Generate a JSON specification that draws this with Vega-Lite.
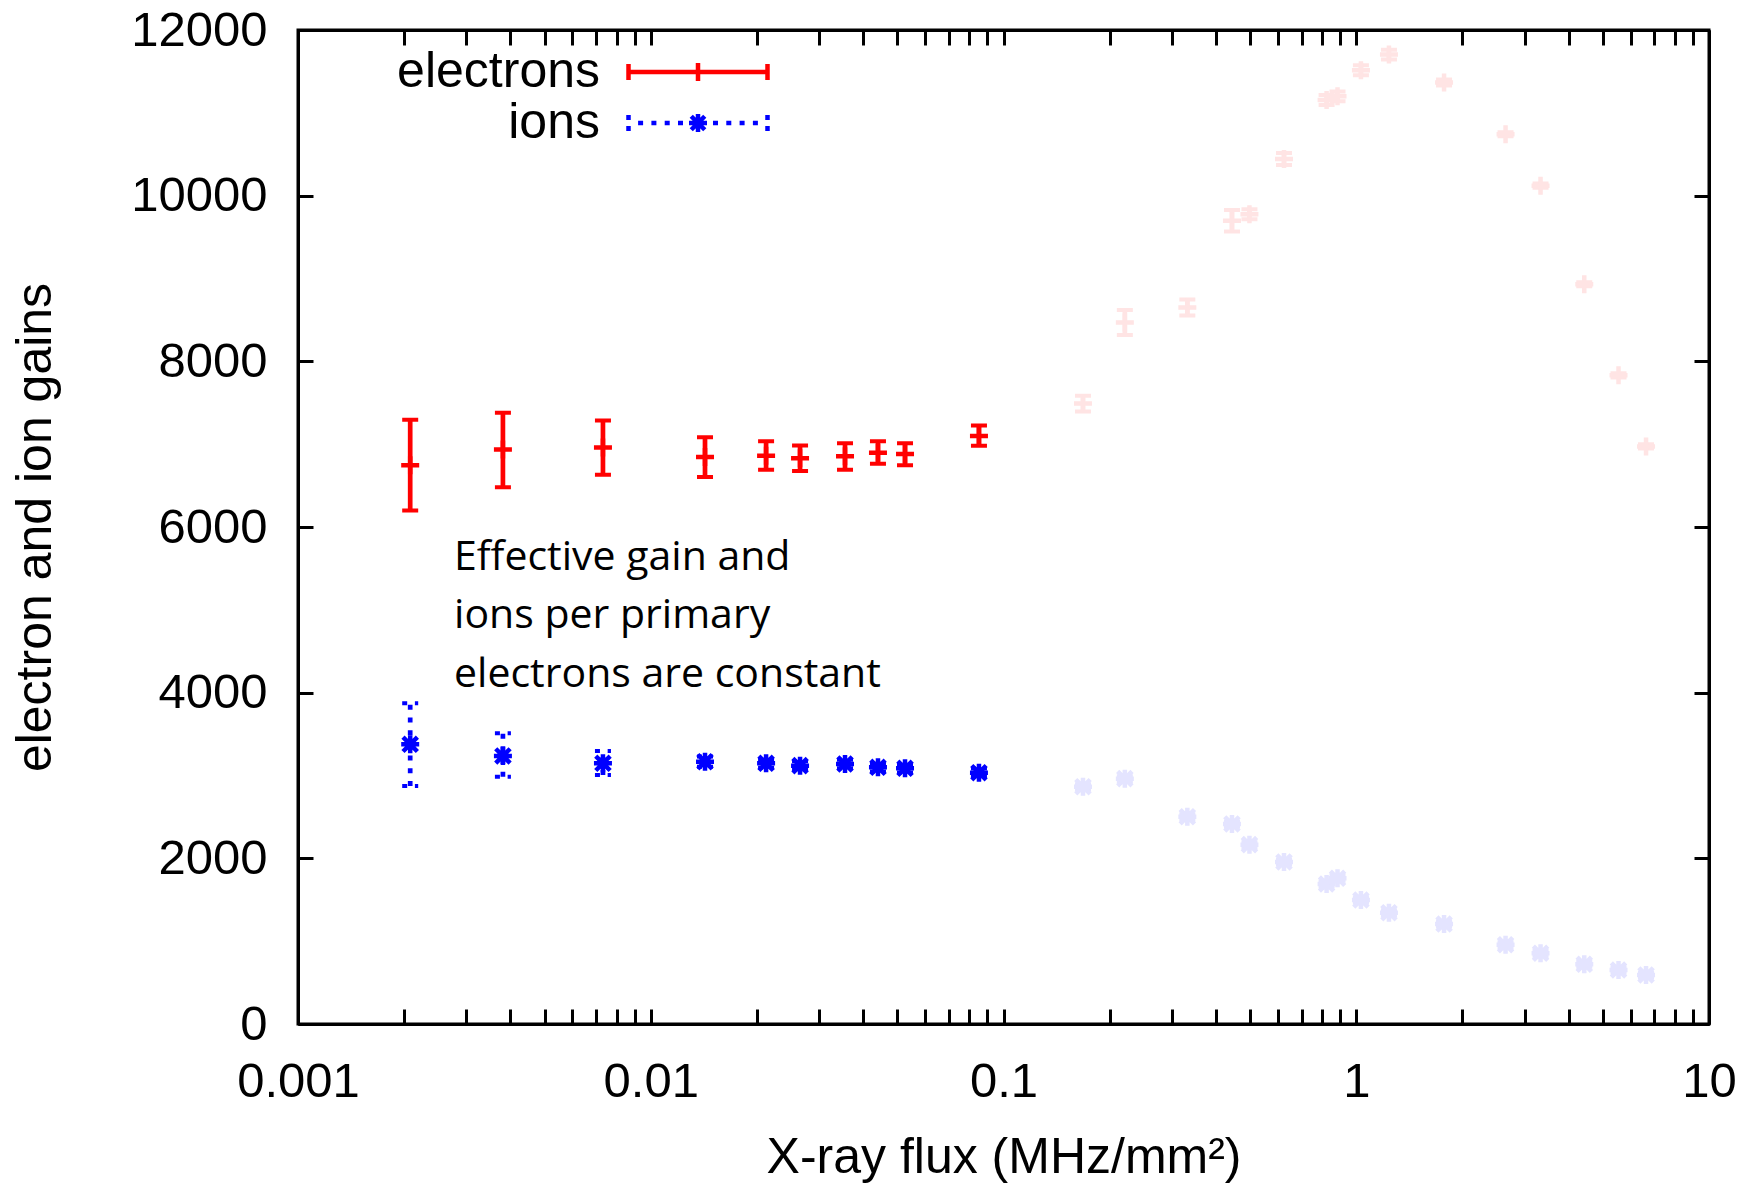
{
  "$schema": "https://vega.github.io/schema/vega-lite/v6.json",
  "width": 1411,
  "height": 994,
  "autosize": {"type": "none"},
  "padding": {"left": 298, "top": 30, "right": 52, "bottom": 160},
  "background": "white",
  "config": {
    "view": {"stroke": "black", "strokeWidth": 3},
    "axis": {"grid": false, "domainColor": "black", "domainWidth": 3, "tickColor": "black", "tickWidth": 3, "labelColor": "black", "titleColor": "black", "labelFont": "Liberation Sans", "titleFont": "Liberation Sans", "titleFontWeight": "normal", "labelFontSize": 49, "titleFontSize": 50, "labelFlush": false, "labelOverlap": false, "labelBound": false}
  },
  "datasets": {
    "pts": [
      {"series": "electrons", "cat": "electrons", "flux": 0.00208, "gain": 6745, "lo": 6200, "hi": 7295},
      {"series": "electrons", "cat": "electrons", "flux": 0.00381, "gain": 6935, "lo": 6480, "hi": 7380},
      {"series": "electrons", "cat": "electrons", "flux": 0.00732, "gain": 6960, "lo": 6630, "hi": 7285},
      {"series": "electrons", "cat": "electrons", "flux": 0.01425, "gain": 6845, "lo": 6605, "hi": 7085},
      {"series": "electrons", "cat": "electrons", "flux": 0.02123, "gain": 6860, "lo": 6690, "hi": 7035},
      {"series": "electrons", "cat": "electrons", "flux": 0.0265, "gain": 6830, "lo": 6675, "hi": 6985},
      {"series": "electrons", "cat": "electrons", "flux": 0.03554, "gain": 6855, "lo": 6690, "hi": 7010},
      {"series": "electrons", "cat": "electrons", "flux": 0.04407, "gain": 6895, "lo": 6765, "hi": 7035},
      {"series": "electrons", "cat": "electrons", "flux": 0.05258, "gain": 6880, "lo": 6745, "hi": 7010},
      {"series": "electrons", "cat": "electrons", "flux": 0.0852, "gain": 7100, "lo": 6980, "hi": 7225},
      {"series": "electrons", "cat": "electrons faded", "flux": 0.168, "gain": 7490, "lo": 7395, "hi": 7585},
      {"series": "electrons", "cat": "electrons faded", "flux": 0.2208, "gain": 8469, "lo": 8318, "hi": 8620},
      {"series": "electrons", "cat": "electrons faded", "flux": 0.332, "gain": 8650, "lo": 8553, "hi": 8747},
      {"series": "electrons", "cat": "electrons faded", "flux": 0.4443, "gain": 9698, "lo": 9568, "hi": 9828},
      {"series": "electrons", "cat": "electrons faded", "flux": 0.498, "gain": 9776, "lo": 9716, "hi": 9836},
      {"series": "electrons", "cat": "electrons faded", "flux": 0.624, "gain": 10443, "lo": 10371, "hi": 10515},
      {"series": "electrons", "cat": "electrons faded", "flux": 0.824, "gain": 11155, "lo": 11095, "hi": 11215},
      {"series": "electrons", "cat": "electrons faded", "flux": 0.885, "gain": 11199, "lo": 11139, "hi": 11259},
      {"series": "electrons", "cat": "electrons faded", "flux": 1.031, "gain": 11513, "lo": 11453, "hi": 11573},
      {"series": "electrons", "cat": "electrons faded", "flux": 1.238, "gain": 11703, "lo": 11643, "hi": 11763},
      {"series": "electrons", "cat": "electrons faded", "flux": 1.774, "gain": 11367, "lo": 11331, "hi": 11403},
      {"series": "electrons", "cat": "electrons faded", "flux": 2.65, "gain": 10742, "lo": 10717, "hi": 10767},
      {"series": "electrons", "cat": "electrons faded", "flux": 3.33, "gain": 10121, "lo": 10096, "hi": 10146},
      {"series": "electrons", "cat": "electrons faded", "flux": 4.43, "gain": 8930, "lo": 8905, "hi": 8955},
      {"series": "electrons", "cat": "electrons faded", "flux": 5.54, "gain": 7831, "lo": 7806, "hi": 7856},
      {"series": "electrons", "cat": "electrons faded", "flux": 6.63, "gain": 6973, "lo": 6948, "hi": 6998},
      {"series": "ions", "cat": "ions", "flux": 0.00208, "gain": 3377, "lo": 2873, "hi": 3872},
      {"series": "ions", "cat": "ions", "flux": 0.00381, "gain": 3236, "lo": 2985, "hi": 3509},
      {"series": "ions", "cat": "ions", "flux": 0.00732, "gain": 3147, "lo": 3006, "hi": 3295},
      {"series": "ions", "cat": "ions", "flux": 0.01425, "gain": 3167, "lo": 3105, "hi": 3229},
      {"series": "ions", "cat": "ions", "flux": 0.02123, "gain": 3147, "lo": 3095, "hi": 3199},
      {"series": "ions", "cat": "ions", "flux": 0.0265, "gain": 3119, "lo": 3067, "hi": 3171},
      {"series": "ions", "cat": "ions", "flux": 0.03554, "gain": 3139, "lo": 3087, "hi": 3191},
      {"series": "ions", "cat": "ions", "flux": 0.04407, "gain": 3099, "lo": 3047, "hi": 3151},
      {"series": "ions", "cat": "ions", "flux": 0.05258, "gain": 3087, "lo": 3035, "hi": 3139},
      {"series": "ions", "cat": "ions", "flux": 0.0852, "gain": 3034, "lo": 2982, "hi": 3086},
      {"series": "ions", "cat": "ions faded", "flux": 0.168, "gain": 2865, "lo": 2835, "hi": 2895},
      {"series": "ions", "cat": "ions faded", "flux": 0.2208, "gain": 2962, "lo": 2932, "hi": 2992},
      {"series": "ions", "cat": "ions faded", "flux": 0.332, "gain": 2503, "lo": 2473, "hi": 2533},
      {"series": "ions", "cat": "ions faded", "flux": 0.4443, "gain": 2415, "lo": 2385, "hi": 2445},
      {"series": "ions", "cat": "ions faded", "flux": 0.498, "gain": 2165, "lo": 2135, "hi": 2195},
      {"series": "ions", "cat": "ions faded", "flux": 0.624, "gain": 1956, "lo": 1926, "hi": 1986},
      {"series": "ions", "cat": "ions faded", "flux": 0.824, "gain": 1690, "lo": 1660, "hi": 1720},
      {"series": "ions", "cat": "ions faded", "flux": 0.885, "gain": 1759, "lo": 1729, "hi": 1789},
      {"series": "ions", "cat": "ions faded", "flux": 1.031, "gain": 1497, "lo": 1467, "hi": 1527},
      {"series": "ions", "cat": "ions faded", "flux": 1.238, "gain": 1344, "lo": 1314, "hi": 1374},
      {"series": "ions", "cat": "ions faded", "flux": 1.774, "gain": 1207, "lo": 1177, "hi": 1237},
      {"series": "ions", "cat": "ions faded", "flux": 2.65, "gain": 957, "lo": 927, "hi": 987},
      {"series": "ions", "cat": "ions faded", "flux": 3.33, "gain": 854, "lo": 824, "hi": 884},
      {"series": "ions", "cat": "ions faded", "flux": 4.43, "gain": 721, "lo": 691, "hi": 751},
      {"series": "ions", "cat": "ions faded", "flux": 5.54, "gain": 652, "lo": 622, "hi": 682},
      {"series": "ions", "cat": "ions faded", "flux": 6.63, "gain": 592, "lo": 562, "hi": 622}
    ],
    "note": [
      {"text": "Effective gain and\nions per primary\nelectrons are constant", "flux": 0.00277, "gain": 5481}
    ]
  },
  "layer": [
    {
      "data": {"name": "pts"},
      "mark": {"type": "rule", "strokeWidth": 4.7},
      "encoding": {
        "x": {"field": "flux", "type": "quantitative",
          "scale": {"type": "log", "domain": [0.001, 10], "nice": false},
          "axis": {"orient": "bottom", "title": "X-ray flux (MHz/mm²)",
            "values": [0.001,0.002,0.003,0.004,0.005,0.006,0.007,0.008,0.009,0.01,0.02,0.03,0.04,0.05,0.06,0.07,0.08,0.09,0.1,0.2,0.3,0.4,0.5,0.6,0.7,0.8,0.9,1,2,3,4,5,6,7,8,9,10],
            "format": "~g",
            "labelExpr": "abs(log(datum.value)/LN10 - round(log(datum.value)/LN10)) < 0.01 ? datum.label : ''",
            "tickSize": -15, "labelPadding": 48, "titlePadding": 26,
            "encode": {"ticks": {"update": {"y2": {"signal": "abs(log(datum.value)/LN10 - round(log(datum.value)/LN10)) < 0.01 ? -15 : -8"}}}}
          }
        },
        "y": {"field": "lo", "type": "quantitative",
          "scale": {"domain": [0, 12000], "nice": false, "zero": false},
          "axis": {"orient": "left", "title": "electron and ion gains",
            "values": [0,2000,4000,6000,8000,10000,12000], "format": "d",
            "tickSize": -15, "labelPadding": 46, "titlePadding": 70}
        },
        "y2": {"field": "hi"},
        "color": {"field": "cat", "type": "nominal",
          "scale": {"domain": ["electrons", "ions", "electrons faded", "ions faded"], "range": ["#ff0000", "#0000ff", "#ffe4e4", "#e4e4ff"]},
          "legend": {
            "values": ["electrons", "ions"],
            "title": null,
            "orient": "none",
            "legendX": 375,
            "legendY": 17,
            "padding": 0,
            "labelFont": "Liberation Sans",
            "labelFontSize": 50,
            "labelColor": "black",
            "labelLimit": 0,
            "labelAlign": "right",
            "labelOffset": -123,
            "symbolType": "M-1,0L1,0",
            "symbolSize": 324,
            "symbolStrokeWidth": 4.5,
            "rowPadding": 1,
            "encode": {"symbols": {"update": {
              "shape": {"signal": "datum.value === 'ions' ? 'M-6.656,0L-6.1,0M-5.178,0L-4.622,0M-3.7,0L-3.144,0M-2.222,0L-1.667,0M1.667,0L2.222,0M3.144,0L3.7,0M4.622,0L5.178,0M6.1,0L6.656,0M-7.722,-0.889L-7.722,-0.333M-7.722,0.333L-7.722,0.889M7.722,-0.889L7.722,-0.333M7.722,0.333L7.722,0.889M-1,0L1,0M0,-1L0,1M-0.75,-0.75L0.75,0.75M-0.75,0.75L0.75,-0.75' : 'M-7.722,0L7.722,0M-7.722,-0.889L-7.722,0.889M7.722,-0.889L7.722,0.889M0,-1L0,1'"},
              "stroke": {"scale": "color", "field": "value"},
              "fill": {"value": "transparent"},
              "strokeWidth": {"value": 4.5},
              "opacity": {"value": 1}
            }}}
          }
        },
        "strokeDash": {"field": "series", "type": "nominal", "scale": {"domain": ["electrons", "ions"], "range": [[1, 0], [5, 7.7]]}, "legend": null}
      }
    },
    {
      "data": {"name": "pts"},
      "mark": {"type": "point", "shape": "M-1,0L1,0", "size": 256, "filled": false, "strokeWidth": 4, "opacity": 1},
      "encoding": {
        "x": {"field": "flux", "type": "quantitative", "axis": null},
        "y": {"field": "lo", "type": "quantitative", "axis": null},
        "color": {"field": "cat", "type": "nominal"},
        "strokeDash": {"field": "series", "type": "nominal", "legend": null}
      }
    },
    {
      "data": {"name": "pts"},
      "mark": {"type": "point", "shape": "M-1,0L1,0", "size": 256, "filled": false, "strokeWidth": 4, "opacity": 1},
      "encoding": {
        "x": {"field": "flux", "type": "quantitative", "axis": null},
        "y": {"field": "hi", "type": "quantitative", "axis": null},
        "color": {"field": "cat", "type": "nominal"},
        "strokeDash": {"field": "series", "type": "nominal", "legend": null}
      }
    },
    {
      "data": {"name": "pts"},
      "mark": {"type": "point", "size": 324, "filled": false, "strokeWidth": 4.5, "opacity": 1},
      "encoding": {
        "x": {"field": "flux", "type": "quantitative", "axis": null},
        "y": {"field": "gain", "type": "quantitative", "axis": null},
        "color": {"field": "cat", "type": "nominal"},
        "shape": {"field": "series", "type": "nominal", "scale": {"domain": ["electrons", "ions"], "range": ["M-1,0L1,0M0,-1L0,1", "M-1,0L1,0M0,-1L0,1M-0.8,-0.8L0.8,0.8M-0.8,0.8L0.8,-0.8"]}, "legend": null}
      }
    },
    {
      "data": {"name": "note"},
      "mark": {"type": "text", "font": "Open Sans", "fontSize": 41, "align": "left", "baseline": "alphabetic", "lineBreak": "\n", "lineHeight": 58.5, "color": "black"},
      "encoding": {
        "x": {"field": "flux", "type": "quantitative",
          "axis": {"orient": "top", "title": null, "labels": false,
            "values": [0.001,0.002,0.003,0.004,0.005,0.006,0.007,0.008,0.009,0.01,0.02,0.03,0.04,0.05,0.06,0.07,0.08,0.09,0.1,0.2,0.3,0.4,0.5,0.6,0.7,0.8,0.9,1,2,3,4,5,6,7,8,9,10],
            "tickSize": -15,
            "encode": {"ticks": {"update": {"y2": {"signal": "abs(log(datum.value)/LN10 - round(log(datum.value)/LN10)) < 0.01 ? 15 : 8"}}}}
          }
        },
        "y": {"field": "gain", "type": "quantitative",
          "axis": {"orient": "right", "title": null, "labels": false, "values": [0,2000,4000,6000,8000,10000,12000], "tickSize": -15}
        },
        "text": {"field": "text"}
      }
    }
  ]
}
